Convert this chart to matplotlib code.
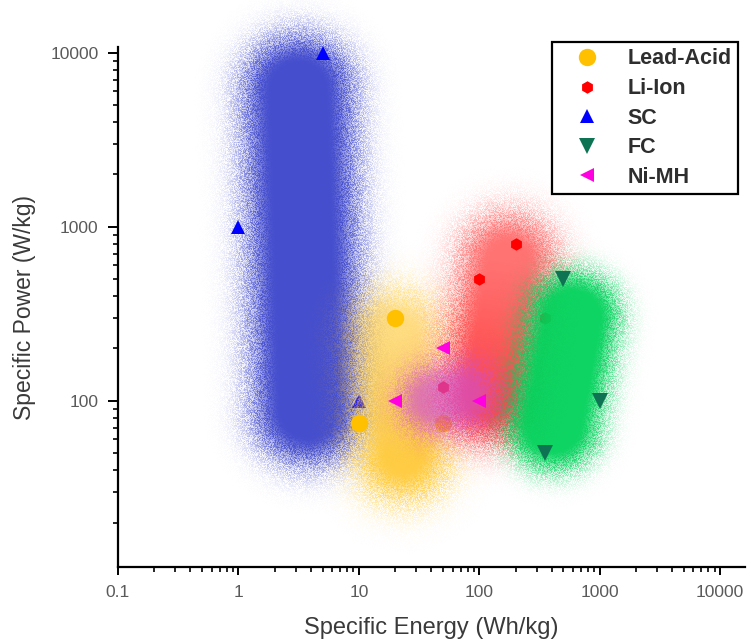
import numpy as np
import matplotlib
matplotlib.use('Agg')
import matplotlib.pyplot as plt
from matplotlib.colors import to_rgb
from matplotlib.ticker import LogLocator, FuncFormatter, NullFormatter

plt.rcParams['font.family'] = ['Liberation Sans', 'DejaVu Sans']

# points: specific energy (Wh/kg), specific power (W/kg)
lead_acid_e = [20, 10, 50]
lead_acid_p = [300, 75, 75]
li_ion_e = [100, 200, 50, 350]
li_ion_p = [500, 800, 120, 300]
sc_e = [1, 5, 10]
sc_p = [1000, 10000, 100]
fc_e = [500, 1000, 350]
fc_p = [500, 100, 50]
nimh_e = [50, 20, 100]
nimh_p = [200, 100, 100]

# shaded zones: two end points of each zone's spine (Wh/kg, W/kg)
sc_zone_e = [3.15, 3.8]
sc_zone_p = [6100, 89]
lead_zone_e = [20.3, 23.2]
lead_zone_p = [239, 49]
li_zone_e = [174, 119]
li_zone_p = [628, 108]
fc_zone_e = [608, 415]
fc_zone_p = [300, 73]
nimh_zone_e = [40.7, 72]
nimh_zone_p = [101, 108]

x_ticks = [0.1, 1, 10, 100, 1000, 10000]
y_ticks = [100, 1000, 10000]

W, H = 748, 641
fig = plt.figure(figsize=(W / 100, H / 100), dpi=100)
ax = fig.add_axes([118 / W, 74 / H, (745 - 118) / W, (567 - 47) / H])
ax.set_xscale('log')
ax.set_yscale('log')
ax.set_xlim(0.1, 16100)
ax.set_ylim(11.1, 10800)

# pixel grid over the whole figure, used to paint the soft "spray" zones
gx, gy = np.meshgrid(np.arange(W) + 0.5, np.arange(H) + 0.5)


def grain(k):
    # fixed hash pattern for the sprayed edge look
    n = np.sin(gx * 12.9898 + gy * 78.233 + k * 37.719) * 43758.5453
    return n - np.floor(n)


def zone(es, ps, core, sigma, color, a_top, a_bot, z):
    a, b = ax.transData.transform(np.column_stack([es, ps]))
    ab = b - a
    t = ((gx - a[0]) * ab[0] + (gy - a[1]) * ab[1]) / (ab @ ab)
    t = np.clip(t, 0, 1)
    d = np.hypot(gx - (a[0] + t * ab[0]), gy - (a[1] + t * ab[1]))
    s = np.clip(d - core, 0, None) / sigma
    p = np.exp(-0.5 * s ** 2)
    q = np.clip(p + 2.4 * (grain(z) - 0.5) * p * (1 - p), 0, 1)
    img = np.zeros((H, W, 4))
    img[..., :3] = to_rgb(color)
    img[..., 3] = (a_top + (a_bot - a_top) * t) * q
    ax.imshow(img, extent=[0, 1, 0, 1], transform=fig.transFigure, origin='lower',
              interpolation='nearest', aspect='auto', zorder=z, clip_on=False)


zone(sc_zone_e, sc_zone_p, 27, 22, '#3F48CC', 0.97, 0.97, 1)
ax.plot(sc_e, sc_p, '^', color='#0000FF', ms=10, mew=0, ls='none', label='SC', zorder=2, clip_on=False)
zone(lead_zone_e, lead_zone_p, 15, 24, '#FFC832', 0.62, 0.92, 3)
ax.plot(lead_acid_e, lead_acid_p, 'o', color='#FFC000', ms=12.5, mew=0, ls='none', label='Lead-Acid', zorder=4)
zone(li_zone_e, li_zone_p, 18, 23, '#FF3C3C', 0.72, 0.95, 5)
ax.plot(li_ion_e, li_ion_p, 'h', color='#FF0000', ms=9, mew=0, ls='none', label='Li-Ion', zorder=6)
zone(fc_zone_e, fc_zone_p, 25, 17, '#00D25A', 0.95, 0.95, 7)
ax.plot(fc_e, fc_p, 'v', color='#0E7352', ms=11, mew=0, ls='none', label='FC', zorder=8)
zone(nimh_zone_e, nimh_zone_p, 11, 18, '#D050D0', 0.68, 0.68, 9)
ax.plot(nimh_e, nimh_p, '<', color='#FF00E0', ms=10, mew=0, ls='none', label='Ni-MH', zorder=10)

ax.set_xlim(0.1, 16100)
ax.set_ylim(11.1, 10800)

for side in ['top', 'right']:
    ax.spines[side].set_visible(False)
for side in ['left', 'bottom']:
    ax.spines[side].set_linewidth(1.6)
    ax.spines[side].set_zorder(20)

ax.set_xticks(x_ticks)
ax.set_yticks(y_ticks)
ax.xaxis.set_minor_locator(LogLocator(base=10, subs=np.arange(2, 10)))
ax.yaxis.set_minor_locator(LogLocator(base=10, subs=np.arange(2, 10)))
fmt = FuncFormatter(lambda v, _: f'{v:g}')
ax.xaxis.set_major_formatter(fmt)
ax.yaxis.set_major_formatter(fmt)
ax.xaxis.set_minor_formatter(NullFormatter())
ax.yaxis.set_minor_formatter(NullFormatter())
ax.tick_params(which='major', direction='out', length=6, width=1.4, labelsize=12.5,
               labelcolor='#5a5a5a', pad=7)
ax.tick_params(which='minor', direction='out', length=3.5, width=1.2)
ax.tick_params(axis='y', which='major', length=7)

ax.set_xlabel('Specific Energy (Wh/kg)', fontsize=17, color='#3a3a3a', labelpad=12)
ax.set_ylabel('Specific Power (W/kg)', fontsize=16.5, color='#3a3a3a', labelpad=10)

handles, labels = ax.get_legend_handles_labels()
order = ['Lead-Acid', 'Li-Ion', 'SC', 'FC', 'Ni-MH']
hl = dict(zip(labels, handles))
leg = ax.legend([hl[k] for k in order], order, loc='upper right',
                bbox_to_anchor=(738 / W, 1 - 42 / H), bbox_transform=fig.transFigure,
                borderaxespad=0, frameon=True, fancybox=False, framealpha=1,
                edgecolor='black', fontsize=15.5, labelspacing=0.4, handletextpad=0.6,
                borderpad=0.3, handlelength=2.6, numpoints=1)
leg.get_frame().set_linewidth(1.6)
leg.set_zorder(30)
for t in leg.get_texts():
    t.set_color('#2e2e2e')
    t.set_fontweight('bold')

fig.savefig('out.png', dpi=100)
